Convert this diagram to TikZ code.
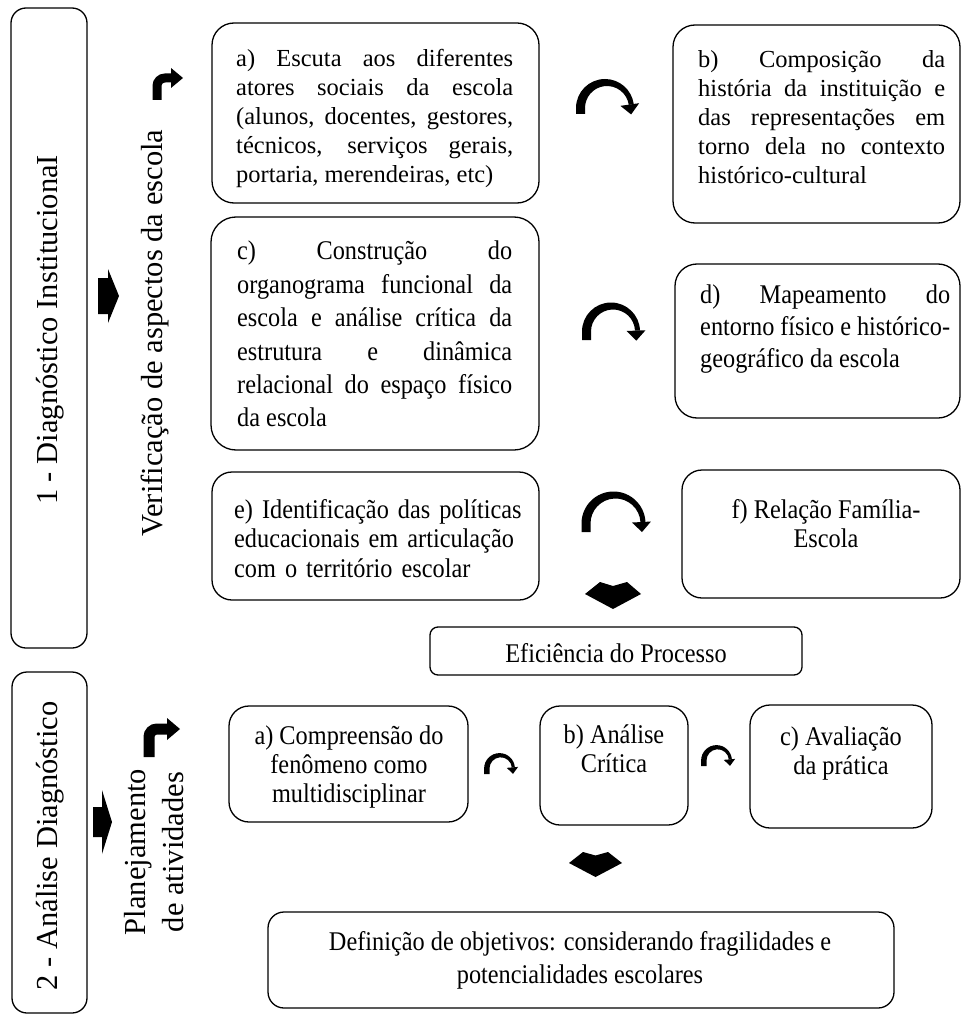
\documentclass[tikz,border=0pt]{standalone}
\usepackage{fontspec}
\setmainfont{Liberation Serif}
\newfontfamily\nfont{Liberation Serif}[FakeStretch=0.9]
\usetikzlibrary{arrows.meta,calc}
\hyphenpenalty=10000
\tikzset{
  x=1pt,y=1pt,
  box/.style={draw=black, line width=1.3pt, rounded corners=#1, inner sep=0pt},
  jtxt/.style={inner sep=0pt, anchor=north west, align=justify},
  ctxt/.style={inner sep=0pt, anchor=north, align=center},
  vtxt/.style={inner sep=0pt, rotate=90, align=center, font=\fontsize{30.5}{38}\selectfont},
  fa/.style={font=\fontsize{24.5}{29}\selectfont},
  fb/.style={font=\nfont\fontsize{27}{#1}\selectfont},
  blk/.style={fill=black, draw=none},
  bent/.style={line width=#1, rounded corners=8pt},
}
% tapered curved arrow: #1 cx, #2 cy, #3 radius, #4 foot y, #5 end angle, #6 thickness scale, #7 head length
\newcommand{\mycurvarrow}[7]{%
  \pgfmathsetmacro\myRo{#3+4*#6}%
  \pgfmathsetmacro\myRi{#3-3*#6}%
  \pgfmathsetmacro\mySh{2*#6}%
  \pgfmathsetmacro\myHw{9.5*#6}%
  \fill[blk] (#1-\myRo,#4) -- (#1-\myRo,#2) arc[start angle=180, end angle=#5, radius=\myRo]
    -- ($(#1+\mySh,#2)+(#5:\myRi)$) arc[start angle=#5, end angle=180, radius=\myRi]
    -- (#1+\mySh-\myRi,#4) -- cycle;
  \fill[blk] ($(#1,#2)+(#5:#3+\myHw)$) -- ($(#1,#2)+(#5:#3)+(#5-90:#7)$) -- ($(#1,#2)+(#5:#3-\myHw)$) -- cycle;
}
\begin{document}
\begin{tikzpicture}
\useasboundingbox (0,0) rectangle (962,-1016);
% frames
\node[box=15pt, minimum width=76pt, minimum height=640pt] (s1) at (49,-328) {};
\node[box=15pt, minimum width=75pt, minimum height=341pt] (s2) at (49.5,-842.5) {};
\node[box=22pt, minimum width=327pt, minimum height=180pt] (a) at (375.5,-113) {};
\node[box=22pt, minimum width=287pt, minimum height=198pt] (b) at (816.5,-124) {};
\node[box=25pt, minimum width=328pt, minimum height=233pt] (c) at (375,-333.5) {};
\node[box=22pt, minimum width=285pt, minimum height=154pt] (d) at (817.5,-341) {};
\node[box=20pt, minimum width=327pt, minimum height=128pt] (e) at (375.5,-536) {};
\node[box=20pt, minimum width=278pt, minimum height=128pt] (f) at (821,-534) {};
\node[box=8pt, minimum width=372pt, minimum height=48pt] (eff) at (616,-651) {};
\node[box=20pt, minimum width=239pt, minimum height=116pt] (pa) at (348.5,-764) {};
\node[box=20pt, minimum width=148pt, minimum height=119pt] (pb) at (614,-765.5) {};
\node[box=20pt, minimum width=182pt, minimum height=123pt] (pc) at (841,-766.5) {};
\node[box=16pt, minimum width=626pt, minimum height=96pt] (def) at (581,-960) {};
% vertical labels
\node[vtxt] (s1t) at (50,-330) {1 - Diagnóstico InstitucionaI};
\node[vtxt] (vt) at (155,-333) {Verificação de aspectos da escola};
\node[vtxt] (s2t) at (50,-846) {2 - Análise Diagnóstico};
\node[vtxt] (pt) at (154,-852) {Planejamento\\de atividades};
% texts
\node[jtxt, fa, text width=277pt] (at) at (236,-49) {a) Escuta aos diferentes\linebreak atores sociais da escola\linebreak (alunos, docentes, gestores,\linebreak técnicos, serviços gerais,\linebreak portaria, merendeiras, etc)};
\node[jtxt, fa, text width=247pt] (bt) at (698,-50) {b) Composição da\linebreak história da instituição e\linebreak das representações em\linebreak torno dela no contexto\linebreak histórico-cultural};
\node[jtxt, fb=33.4, text width=275pt] (ct) at (237,-241) {c) Construção do\linebreak organograma funcional da\linebreak escola e análise crítica da\linebreak estrutura e dinâmica\linebreak relacional do espaço físico\linebreak da escola};
\node[jtxt, fb=32, text width=250pt] (dt) at (700,-285) {d) Mapeamento do\linebreak entorno físico e histórico-\linebreak geográfico da escola};
\node[jtxt, fb=29.5, text width=290pt, align=left] (et) at (234,-499) {e) Identificação das políticas\\educacionais em articulação\\com o território escolar};
\node[ctxt, fb=29.5] (ft) at (826,-499) {f) Relação Família-\\Escola};
\node[inner sep=0pt, fb=30] (efft) at (616,-653) {Eficiência do Processo};
\node[ctxt, fb=29] (pat) at (349,-726) {a) Compreensão do\\fenômeno como\\multidisciplinar};
\node[ctxt, fb=29] (pbt) at (614,-725) {b) Análise\\Crítica};
\node[ctxt, fb=29] (pct) at (841,-727) {c) Avaliação\\da prática};
\node[ctxt, fb=33] (dft) at (580,-931) {Definição de objetivos: considerando fragilidades e\\potencialidades escolares};
% block arrows
\fill[blk] (98,-278) -- (108,-278) -- (108,-269) -- (119,-296) -- (108,-323) -- (108,-314) -- (98,-314) -- cycle;
\fill[blk] (93,-807) -- (102,-807) -- (102,-790) -- (112,-822) -- (102,-854) -- (102,-837) -- (93,-837) -- cycle;
% bent arrows
\draw[bent=9pt] (157,-100) |- (172,-78);
\fill[blk] (171,-68) -- (183,-78) -- (171,-88) -- cycle;
\draw[bent=11pt] (149,-757) |- (168,-729);
\fill[blk] (167,-718) -- (180,-729) -- (167,-740) -- cycle;
% curved arrows
\mycurvarrow{605}{-108}{25}{-114}{8}{1}{10}
\mycurvarrow{611}{-331.5}{25}{-340}{2}{1}{10}
\mycurvarrow{613.5}{-523.5}{28}{-532}{3}{1}{10}
\mycurvarrow{499.5}{-768.5}{13}{-774}{5}{0.6}{6.5}
\mycurvarrow{716.5}{-760.5}{13}{-766}{5}{0.6}{6.5}
% chevrons
\fill[blk] (585,-594) -- (600,-582) -- (613,-586) -- (627,-582) -- (641,-594) -- (613,-609) -- cycle;
\fill[blk] (569,-863) -- (583,-852) -- (595.5,-855.5) -- (608,-852) -- (622,-863) -- (595.5,-877) -- cycle;
\end{tikzpicture}
\end{document}
